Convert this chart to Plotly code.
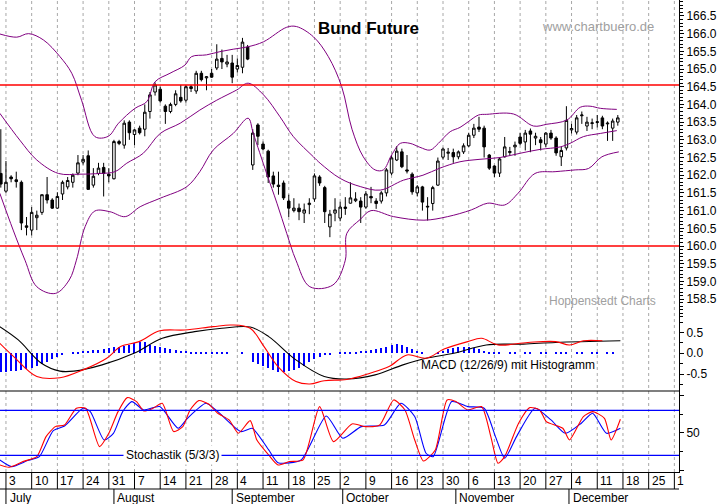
import plotly.graph_objects as go

# ---------------- data ----------------
days = list(range(-1, 120))  # trading-day index, 0 = Mon 3 July 2000
ohlc = [
 (162.05,163.3,161.65,161.75),(161.55,162.4,161.5,161.8),(161.95,162.0,161.8,161.9),(161.87,162.1,161.65,161.82),
 (161.8,161.85,160.45,160.65),(160.57,160.82,160.3,160.53),(160.45,161.1,160.3,160.95),(160.8,161.0,160.45,160.87),
 (160.95,161.45,160.88,161.45),(161.45,161.95,161.2,161.3),(161.3,161.35,161.05,161.07),(161.07,161.52,161.05,161.4),
 (161.47,161.85,161.3,161.8),(161.67,161.95,161.6,161.85),(161.8,162.05,161.65,162.0),(162.06,162.57,162.0,162.35),
 (162.37,162.57,162.3,162.45),(162.55,162.7,161.6,161.6),(161.72,162.2,161.65,161.97),(162.05,162.35,162.0,162.2),
 (162.22,162.35,161.4,162.05),(162.03,162.2,161.8,161.98),(161.9,163.0,161.88,162.95),(162.95,163.0,162.85,162.9),
 (162.85,163.55,162.75,163.47),(163.5,163.55,163.0,163.2),(163.15,163.3,162.85,163.28),(163.33,163.4,163.15,163.2),
 (163.3,164.0,163.1,163.78),(163.8,164.35,163.6,164.27),(164.35,164.62,164.25,164.55),(164.43,164.5,164.05,164.1),
 (163.95,164.0,163.45,163.8),(163.8,164.05,163.75,164.0),(164.0,164.4,163.95,164.3),(164.2,164.55,164.05,164.1),
 (164.12,164.55,164.05,164.5),(164.5,164.55,164.35,164.45),(164.38,164.95,164.3,164.88),(164.88,164.95,164.65,164.7),
 (164.75,164.8,164.4,164.78),(164.88,165.0,164.75,164.77),(165.03,165.7,164.97,165.28),(165.3,165.55,165.0,165.2),
 (165.14,165.4,165.05,165.2),(165.17,165.4,164.6,164.77),(165.0,165.3,164.9,165.1),(165.05,165.88,164.88,165.76),
 (165.62,165.68,165.25,165.28),(162.29,163.3,162.15,163.19),(163.42,163.47,162.85,163.1),(162.88,162.95,162.7,162.74),
 (162.68,162.72,161.78,161.95),(161.98,162.1,161.65,161.75),(161.72,162.1,161.45,161.68),(161.78,161.85,161.3,161.36),
 (161.27,161.45,160.82,161.07),(161.0,161.35,160.95,161.07),(161.07,161.2,160.73,160.97),(160.93,161.2,160.65,161.02),
 (161.17,161.35,160.9,161.21),(161.33,162.05,161.25,161.98),(161.95,162.0,161.7,161.78),(161.65,161.7,160.65,160.97),
 (160.54,161.02,160.25,160.9),(160.93,161.35,160.7,161.02),(160.79,161.25,160.7,161.1),(161.06,161.38,160.88,161.1),
 (161.21,161.8,161.2,161.36),(161.28,161.52,161.24,161.33),(161.27,161.38,160.65,161.1),(161.1,161.55,161.05,161.47),
 (161.4,161.67,161.21,161.36),(161.27,161.35,161.05,161.2),(161.27,161.55,161.2,161.5),(161.5,162.2,161.4,162.15),
 (162.06,162.57,162.0,162.49),(162.43,162.82,162.4,162.68),(162.66,162.75,162.2,162.24),(162.15,162.57,162.05,162.12),
 (162.03,162.08,161.45,161.53),(161.5,161.72,161.4,161.67),(161.67,161.7,161.0,161.24),(161.1,161.38,160.72,161.12),
 (161.2,161.7,161.0,161.65),(161.72,162.5,161.7,162.4),(162.51,162.78,162.45,162.74),(162.62,162.77,162.43,162.65),
 (162.64,162.75,162.35,162.52),(162.52,162.7,162.45,162.66),(162.66,162.9,162.6,162.83),(162.83,163.2,162.8,163.13),
 (163.13,163.45,163.05,163.33),(163.36,163.65,163.22,163.3),(163.33,163.4,162.5,162.8),(162.57,162.6,162.15,162.2),
 (162.26,162.28,161.95,162.06),(162.06,162.5,161.95,162.46),(162.52,163.08,162.5,162.8),(162.64,162.8,162.55,162.67),
 (162.8,162.95,162.55,162.85),(163.08,163.2,162.85,162.9),(162.94,163.28,162.7,163.19),(163.25,163.32,162.65,163.16),
 (163.05,163.2,162.85,163.1),(163.0,163.08,162.7,162.92),(162.88,163.22,162.8,163.19),(163.19,163.28,163.0,163.05),
 (163.05,163.1,162.55,162.63),(162.52,162.8,162.26,162.7),(162.77,163.95,162.7,163.55),(163.28,163.45,163.18,163.32),
 (163.22,163.7,163.15,163.62),(163.68,163.8,163.45,163.7),(163.39,163.65,163.25,163.5),(163.46,163.6,163.3,163.48),
 (163.49,163.7,163.35,163.51),(163.62,163.68,163.3,163.39),(163.45,163.52,162.97,163.47),(163.33,163.6,162.97,163.53),
 (163.5,163.7,163.4,163.62),
]
opens = [c[0] for c in ohlc]; highs = [c[1] for c in ohlc]; lows = [c[2] for c in ohlc]; closes = [c[3] for c in ohlc]

bb_up_x = [-1.2,2.1,4.4,7.3,10.5,12.8,14.7,17.3,19.9,21.9,25.1,27.4,29.0,31.9,34.8,36.1,39.0,41.6,44.2,47.1,50.1,54.6,56.5,59.8,62.7,65.3,67.3,69.5,71.8,73.4,75.0,76.7,78.6,80.5,82.5,84.1,86.4,88.3,89.9,91.9,93.5,98.7,102.6,105.2,109.1,111.7,113.6,115.6,118.8]
bb_up_y = [165.99,165.9,166.0,165.82,165.35,164.88,164.12,163.09,163.1,163.47,163.89,164.08,164.64,164.88,165.11,165.35,165.4,165.49,165.56,165.63,165.77,166.18,166.2,165.91,165.35,164.5,163.3,162.52,162.15,162.15,162.57,162.9,162.9,162.79,162.71,162.9,163.23,163.35,163.51,163.7,163.72,163.73,163.39,163.44,163.56,163.92,163.95,163.89,163.86]
bb_mid_x = [-1.2,2.7,6.0,10.2,14.4,18.3,21.2,23.5,26.7,30.0,33.9,37.7,41.0,44.9,47.1,50.1,53.3,55.9,59.8,61.1,65.0,68.9,72.8,77.3,81.1,84.4,88.3,92.2,96.1,100.0,103.9,107.8,109.7,112.3,115.6,118.8]
bb_mid_y = [163.75,162.99,162.43,162.05,162.03,162.05,162.1,162.34,162.62,163.18,163.47,163.84,164.12,164.41,164.6,164.27,163.65,163.09,162.52,162.34,161.91,161.68,161.58,161.86,162.0,162.2,162.38,162.45,162.5,162.62,162.73,162.8,162.9,163.09,163.18,163.26]
bb_low_x = [-1.2,1.4,3.7,6.0,9.6,12.3,13.7,15.4,17.3,20.2,23.2,26.1,30.0,35.2,37.7,40.3,44.2,47.1,48.1,50.7,52.7,54.6,56.4,59.1,63.6,66.0,66.3,68.9,71.0,75.4,81.3,85.9,90.5,93.7,97.0,99.6,102.9,106.8,110.7,113.3,115.9,119.2]
bb_low_y = [161.49,160.45,159.6,158.85,158.66,159.04,159.6,160.55,160.99,160.97,160.83,161.11,161.35,161.68,162.1,162.71,163.18,163.61,163.18,162.05,161.21,160.36,159.6,158.85,158.9,159.6,160.36,160.75,161.0,160.83,160.73,160.83,161.02,161.21,161.16,161.49,162.05,162.1,162.15,162.19,162.52,162.66]

macd_x = [-1.2,1.5,6.0,10.5,15.0,19.6,22.3,25.9,29.9,34.8,40.3,43.9,47.5,50.2,52.9,56.4,59.1,61.9,66.3,70.8,74.5,78.0,81.7,85.2,89.8,92.5,95.7,101.5,106.9,109.6,112.3,116.0]
macd_y = [0.24,-0.08,-0.56,-0.59,-0.4,-0.12,0.16,0.28,0.54,0.56,0.64,0.68,0.6,0.16,-0.32,-0.68,-0.74,-0.66,-0.63,-0.48,-0.32,-0.04,-0.12,0.1,0.28,0.36,0.2,0.26,0.28,0.2,0.3,0.3]
signal_x = [-1.2,2.4,6.9,10.5,13.2,18.7,24.9,30.4,36.7,42.0,47.5,51.1,56.4,61.9,66.3,71.8,77.2,81.7,87.1,93.4,100.6,106.9,119.5]
signal_y = [0.64,0.32,-0.24,-0.43,-0.43,-0.28,0.0,0.36,0.52,0.6,0.63,0.4,-0.16,-0.56,-0.62,-0.52,-0.28,-0.12,0.0,0.2,0.22,0.26,0.3]
hist = [-0.45,-0.44,-0.42,-0.42,-0.4,-0.38,-0.35,-0.3,-0.27,-0.22,-0.15,-0.08,-0.03,0.0,0.02,0.04,0.05,0.06,0.08,0.08,
        0.1,0.12,0.14,0.15,0.18,0.2,0.24,0.28,0.26,0.2,0.17,0.14,0.12,0.1,0.08,0.06,0.05,0.04,0.03,0.03,
        0.03,0.02,0.02,0.02,0.02,0.0,0.0,0.02,0.0,-0.2,-0.25,-0.3,-0.35,-0.4,-0.45,-0.45,-0.42,-0.4,-0.35,-0.3,
        -0.22,-0.15,-0.1,-0.05,-0.02,0.0,0.01,0.02,0.03,0.04,0.05,0.06,0.08,0.1,0.12,0.15,0.2,0.22,0.2,0.15,
        0.1,0.06,0.02,0.0,0.0,0.03,0.06,0.1,0.12,0.14,0.15,0.14,0.13,0.1,0.06,0.02,0.01,0.01,0.0,0.01,
        0.01,0.0,0.01,0.01,0.0,0.01,0.01,0.0,0.01,0.01,0.01,0.0,0.01,0.01,0.0,0.01,0.01,0.0,0.01,0.01,0.0]

stk_x = [-1.2,0.6,3.3,6.0,7.8,9.6,11.4,13.7,15.5,18.2,20.0,21.8,23.6,25.4,26.8,28.6,30.4,32.6,34.4,35.8,37.5,39.4,41.2,43.4,45.2,47.5,48.8,51.1,52.9,55.1,57.8,61.0,63.7,67.3,70.0,72.7,75.4,77.6,79.5,81.2,83.5,85.8,87.5,89.8,92.5,94.3,95.7,97.0,99.7,101.9,103.8,105.1,108.3,109.6,112.3,114.1,116.4,117.7,119.5]
stk_k = [7.1,4,11.6,18.2,44.9,58.2,60.4,82.7,82.7,31.6,49.3,78.2,96.9,91.6,79.1,82.7,89.3,51.6,58.2,80.4,92.9,88.4,76,67.1,49.3,66.2,40.4,20.4,7.1,11.6,13.8,84.9,38.2,61.8,58.2,60.4,93.8,80.4,40.4,12.4,27.1,93.8,91.6,80.4,84.9,44.9,9.3,18.2,62.7,83.6,80.4,64.9,56,40.4,71.6,78.2,69.3,40.4,68]
std_x = [-1.2,1.1,4.2,6.5,9.2,11.4,15.0,16.4,19.1,20.9,22.7,24.5,26.8,29.9,33.5,35.3,38.9,41.2,45.7,47.9,51.1,52.9,57.4,62.3,65.5,69.1,73.6,76.8,79.5,81.7,83.1,86.7,89.8,93.0,95.2,97.0,99.3,102.9,106.0,108.8,111.9,114.1,116.8,119.5]
std_d = [13.8,4.9,12.9,18.2,52.9,59.1,82.7,78.2,40.4,49.3,78.2,91.6,80.4,84.9,56,69.3,89.3,78.2,51.6,56,27.1,10.2,13.8,72.4,42.7,58.2,60.4,89.3,71.6,22.7,18.2,91.6,84.9,82.7,44.9,16,44.9,82.7,67.1,49.3,62.7,76,49.3,56]

week_idx = list(range(0, 131, 5))
week_lbl = ["3","10","17","24","31","7","14","21","28","4","11","18","25","2","9","16","23","30","6","13","20","27","4","11","18","25","1"]
month_idx = [0, 21, 44, 65.5, 87.5, 109.5]
month_lbl = ["July", "August", "September", "October", "November", "December"]
price_ticks = [158.5 + 0.5 * i for i in range(17)]
red_levels = [164.55, 160.0]
stoch_levels = [80, 20]

# ---------------- figure ----------------
FONT = "Liberation Sans, Arial, sans-serif"
fig = go.Figure()
PURPLE = "#800080"
for bx, by in [(bb_up_x, bb_up_y), (bb_mid_x, bb_mid_y), (bb_low_x, bb_low_y)]:
    fig.add_trace(go.Scatter(x=bx, y=by, mode="lines", line=dict(color=PURPLE, width=1, shape="spline"),
                             yaxis="y", hoverinfo="skip"))
fig.add_trace(go.Candlestick(x=days, open=opens, high=highs, low=lows, close=closes, yaxis="y",
    increasing=dict(fillcolor="white", line=dict(color="black", width=1)),
    decreasing=dict(fillcolor="black", line=dict(color="black", width=1)),
    whiskerwidth=0, hoverinfo="skip"))
fig.add_trace(go.Bar(x=days, y=hist, width=0.22, marker=dict(color="#0000ff", line=dict(width=0)), yaxis="y2"))
fig.add_trace(go.Scatter(x=signal_x, y=signal_y, mode="lines", line=dict(color="black", width=1.1, shape="spline"), yaxis="y2"))
fig.add_trace(go.Scatter(x=macd_x, y=macd_y, mode="lines", line=dict(color="red", width=1.1, shape="spline"), yaxis="y2"))
fig.add_trace(go.Scatter(x=std_x, y=std_d, mode="lines", line=dict(color="#0000ff", width=1.1, shape="spline", smoothing=0.6), yaxis="y3"))
fig.add_trace(go.Scatter(x=stk_x, y=stk_k, mode="lines", line=dict(color="red", width=1.1, shape="spline", smoothing=0.6), yaxis="y3"))

ROW1 = -17 / 472
ROW2 = -32 / 472
shapes = []
for w in week_idx:
    shapes.append(dict(type="line", xref="x", yref="paper", x0=w, x1=w, y0=0, y1=1,
                       line=dict(color="#a8a8a8", width=1, dash="3px,3px"), layer="below"))
    shapes.append(dict(type="line", xref="x", yref="paper", x0=w, x1=w, y0=0, y1=ROW1,
                       line=dict(color="black", width=1)))
for m in month_idx:
    shapes.append(dict(type="line", xref="x", yref="paper", x0=m, x1=m, y0=ROW1, y1=ROW2,
                       line=dict(color="black", width=1)))
shapes.append(dict(type="line", xref="paper", yref="paper", x0=0, x1=1, y0=ROW1, y1=ROW1, line=dict(color="black", width=1)))
for lv in red_levels:
    shapes.append(dict(type="line", xref="paper", yref="y", x0=0, x1=1, y0=lv, y1=lv, line=dict(color="red", width=1.5)))
for lv in stoch_levels:
    shapes.append(dict(type="line", xref="paper", yref="y3", x0=0, x1=1, y0=lv, y1=lv, line=dict(color="#0000ff", width=1.2)))
shapes.append(dict(type="line", xref="paper", yref="paper", x0=0, x1=1, y0=81/472, y1=81/472, line=dict(color="black", width=1.2)))

ann = []
for w, t in zip(week_idx, week_lbl):
    ann.append(dict(x=w + 0.2, y=ROW1 / 2, xref="x", yref="paper", text=t, showarrow=False, xanchor="left",
                    yanchor="middle", font=dict(family=FONT, size=12, color="black")))
for m, t in zip(month_idx, month_lbl):
    ann.append(dict(x=m + 0.3, y=(ROW1 + ROW2) / 2 - 0.003, xref="x", yref="paper", text=t, showarrow=False, xanchor="left",
                    yanchor="middle", font=dict(family=FONT, size=12, color="black")))
ann += [
    dict(x=316/679, y=1 - 17/472, xref="paper", yref="paper", text="<b>Bund Future</b>", showarrow=False,
         xanchor="left", font=dict(family=FONT, size=17, color="black")),
    dict(x=656/679, y=1 - 17/472, xref="paper", yref="paper", text="www.chartbuero.de", showarrow=False,
         xanchor="right", font=dict(family=FONT, size=13, color="#a0a0a0")),
    dict(x=658/679, y=1 - 301/472, xref="paper", yref="paper", text="Hoppenstedt Charts", showarrow=False,
         xanchor="right", font=dict(family=FONT, size=12, color="#a0a0a0")),
    dict(x=419/679, y=1 - 374/472, xref="paper", yref="paper", text="MACD (12/26/9) mit Histogramm", showarrow=False,
         xanchor="left", font=dict(family=FONT, size=12, color="black")),
    dict(x=172/679, y=20, xref="paper", yref="y3", text="Stochastik (5/3/3)", showarrow=False, xanchor="center",
         bgcolor="white", borderpad=2, font=dict(family=FONT, size=12, color="black")),
]

axfont = dict(family=FONT, size=12, color="black")
common = dict(side="right", ticks="outside", ticklen=4, tickcolor="black", showgrid=False, zeroline=False,
              showline=True, linecolor="black", tickfont=axfont, anchor="x", automargin=False)
fig.update_layout(
    width=723, height=504, margin=dict(l=0, r=44, t=0, b=32),
    paper_bgcolor="white", plot_bgcolor="white", showlegend=False, bargap=0,
    font=dict(family=FONT),
    xaxis=dict(range=[-1.16, 130.9], showgrid=False, showticklabels=False, ticks="", zeroline=False,
               rangeslider=dict(visible=False), showline=True, linecolor="black", linewidth=1, anchor="y3",
               automargin=False),
    yaxis=dict(domain=[1 - 320/472, 1], range=[157.91, 166.95], tickvals=price_ticks,
               ticktext=["%.1f" % v for v in price_ticks],
               minor=dict(dtick=0.1, ticks="outside", ticklen=3, tickcolor="black"), **common),
    yaxis2=dict(domain=[81/472, 1 - 320/472], range=[-0.908, 0.80], tickvals=[0.5, 0.0, -0.5],
                ticktext=["0.5", "0.0", "-0.5"], minor=dict(dtick=0.25, ticks="outside", ticklen=3, tickcolor="black"),
                **common),
    yaxis3=dict(domain=[0, 81/472], range=[-2.3, 105.7], tickvals=[0, 50, 100], ticktext=["", "50", ""],
                minor=dict(dtick=25, ticks="outside", ticklen=3, tickcolor="black"), **common),
    shapes=shapes, annotations=ann,
)
fig.write_html("out.html", config={"displayModeBar": False},
               post_script="document.body.style.margin='0px';document.body.style.padding='0px';")
